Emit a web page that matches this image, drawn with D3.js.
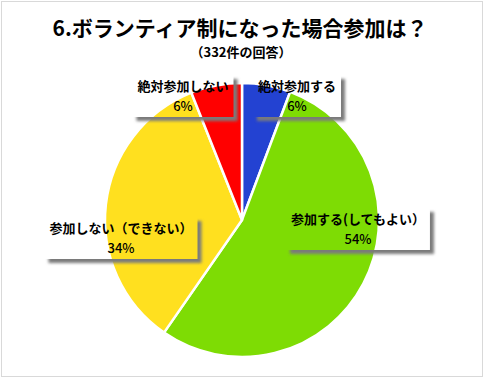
<!DOCTYPE html>
<meta charset="utf-8">
<script src="https://d3js.org/d3.v7.min.js"></script>
<style>body{margin:0;background:#fff}</style>
<div id="pie"></div>
<script>
    const categories = ["絶対参加する","参加する(してもよい）","参加しない（できない）","絶対参加しない"];
    const counts = [19,179,114,20];
    const colors = ["#2342d2","#7edc04","#ffe01f","#ff0000"];
    const title = "6.ボランティア制になった場合参加は？";
    const subtitle = "（332件の回答）";

    // where each data label sits (label center), picked to match the layout
    const labelAt = [[297,96],[358,229],[121,238],[183,96]];

    const width=484, height=378;
    const cx=242, cy=220, r=137;
    const font = "'Noto Sans CJK JP','Noto Sans',sans-serif";

    const svg=d3.select("#pie")
    .append("svg")
        .attr("width",width)
        .attr("height",height);

    const defs=svg.append("defs");
    defs.append("filter").attr("id","blur")
        .attr("x","-20%").attr("y","-40%").attr("width","140%").attr("height","180%")
      .append("feGaussianBlur").attr("stdDeviation",1.6);

    svg.append("rect")
        .attr("x",1.5).attr("y",1.5)
        .attr("width",width-3).attr("height",height-3)
        .style("fill","#fff").style("stroke","#d9d9d9");

    svg.append("text")
        .attr("x",240).attr("y",36)
        .attr("text-anchor","middle")
        .style("font-family",font).style("font-weight","bold").style("font-size","21px")
        .text(title);
    svg.append("text")
        .attr("x",241).attr("y",57)
        .attr("text-anchor","middle")
        .style("font-family",font).style("font-weight","bold").style("font-size","13px")
        .text(subtitle);

    const total=d3.sum(counts);
    const pie=d3.pie().sort(null)(counts);
    const arc=d3.arc().innerRadius(0).outerRadius(r);

    const g=svg.append("g").attr("transform",`translate(${cx},${cy})`);
    g.selectAll("path")
        .data(pie)
        .join("path")
            .attr("d",arc)
            .style("fill",(d,i)=>colors[i])
            .style("stroke","#fff")
            .style("stroke-width",2.5);

    // labels: no fill, only an outer drop shadow
    const lab=svg.append("g").selectAll("g")
        .data(categories)
        .join("g")
            .attr("transform",(d,i)=>`translate(${labelAt[i][0]},${labelAt[i][1]})`);

    lab.each(function(d,i){
        const el=d3.select(this);
        const t1=el.append("text")
            .attr("text-anchor","middle").attr("y",-5)
            .style("font-family",font).style("font-weight","bold").style("font-size","13px")
            .text(d);
        el.append("text")
            .attr("text-anchor","middle").attr("y",14.5)
            .style("font-family",font).style("font-weight","500").style("font-size","13px")
            .text(Math.round(counts[i]/total*100)+"%");
        const w=t1.node().getComputedTextLength()+10, h=42;
        const id="m"+i;
        const m=defs.append("mask").attr("id",id);
        m.append("rect").attr("x",-w).attr("y",-h).attr("width",w*2).attr("height",h*2).style("fill","#fff");
        m.append("rect").attr("x",-w/2).attr("y",-h/2).attr("width",w).attr("height",h).style("fill","#000");
        el.insert("rect","text")
            .attr("x",-w/2+4).attr("y",-h/2+4)
            .attr("width",w).attr("height",h)
            .attr("mask",`url(#${id})`)
            .style("fill","#7a7a7a")
            .attr("filter","url(#blur)");
    });
</script>
